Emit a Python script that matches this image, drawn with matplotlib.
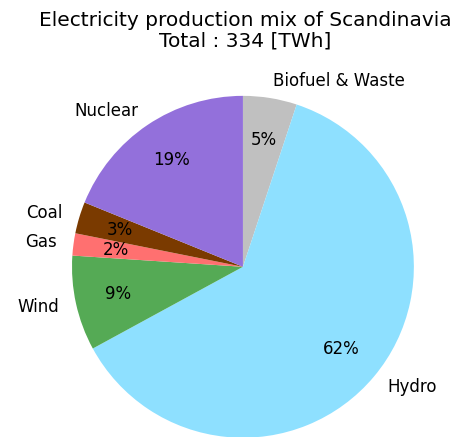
import matplotlib
matplotlib.use('Agg')
import matplotlib.pyplot as plt

# Electricity production of Scandinavia [TWh]
labels = ['Biofuel & Waste', 'Hydro', 'Wind', 'Gas', 'Coal', 'Nuclear']
values = [17, 207, 30, 7, 10, 63]
colors = ['#c0c0c0', '#8ee0ff', '#55aa55', '#ff7070', '#7a3a00', '#9370db']

total = sum(values)

fig = plt.figure(figsize=(4.54, 4.37), dpi=100)
ax = fig.add_axes([0.1586, -0.002, 0.753, 0.783])

ax.pie(values, labels=labels, colors=colors, startangle=90,
       counterclock=False, autopct='%1.0f%%', pctdistance=0.75,
       labeldistance=1.1, textprops={'fontsize': 12})
ax.set_xlim(-1, 1)
ax.set_ylim(-1, 1)
ax.set_aspect('equal')

fig.text(0.54, 0.975, 'Electricity production mix of Scandinavia\nTotal : %d [TWh]' % total,
         ha='center', va='top', fontsize=14.5, linespacing=1.1)

fig.savefig('out.png', dpi=100)
